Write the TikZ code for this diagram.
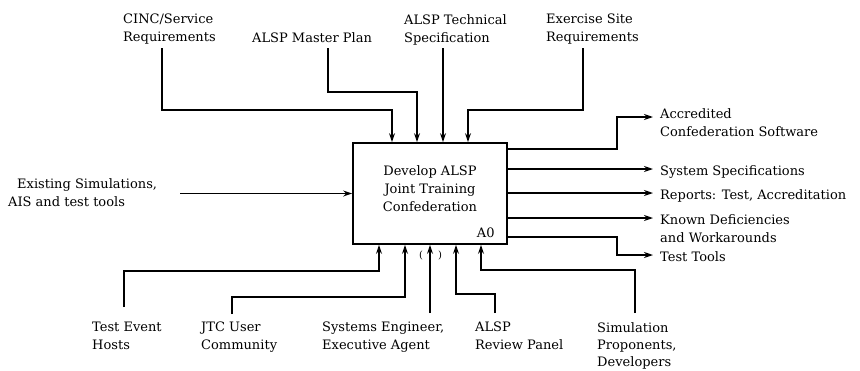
\documentclass[tikz,border=0pt]{standalone}
\usepackage{fontspec}
\setmainfont{DejaVu Serif}
\usetikzlibrary{arrows.meta, positioning, calc}

\begin{document}
\begin{tikzpicture}[
    x=1pt, y=-1pt,
    func/.style={rectangle, draw, line width=1.7pt, minimum width=154pt, minimum height=101pt},
    lbl/.style={align=left, inner sep=0pt, font=\fontsize{13}{18}\selectfont},
    arrow/.style={-{Stealth[length=9pt, width=6pt]}, line width=1.4pt},
]
\useasboundingbox (0,0) rectangle (860,370);

% Activity box
\node[func] (box) at (430,193.5) {};
\node[lbl, align=center] (title) at ([shift={(0,-5)}]box.center) {Develop ALSP\\Joint Training\\Confederation};
\node[lbl, anchor=south east] (a0) at ([shift={(-13,-7)}]box.south east) {A0};

% Controls (top)
\node[lbl, anchor=north west] (cinc) at (123,14) {CINC/Service\\Requirements};
\node[lbl, anchor=north west] (master) at (252,32) {ALSP Master Plan};
\node[lbl, anchor=north west] (tech) at (404,14) {ALSP Technical\\Specification};
\node[lbl, anchor=north west] (exer) at (546,14) {Exercise Site\\Requirements};

% Input (left)
\node[lbl, anchor=north west] (exist) at (8,178) {\hspace*{9pt}Existing Simulations,\\AIS and test tools};

% Outputs (right)
\node[lbl, anchor=north west] (acc) at (660,108) {Accredited\\Confederation Software};
\node[lbl, anchor=north west] (spec) at (660,165) {System Specifications};
\node[lbl, anchor=north west] (rep) at (660,189) {Reports: Test, Accreditation};
\node[lbl, anchor=north west] (known) at (660,214) {Known Deficiencies\\and Workarounds};
\node[lbl, anchor=north west] (tools) at (660,251) {Test Tools};

% Mechanisms (bottom)
\node[lbl, anchor=north west] (hosts) at (92,322) {Test Event\\Hosts};
\node[lbl, anchor=north west] (jtc) at (201,322) {JTC User\\Community};
\node[lbl, anchor=north west] (sys) at (322,322) {Systems Engineer,\\Executive Agent};
\node[lbl, anchor=north west] (panel) at (475,322) {ALSP\\Review Panel};
\node[lbl, anchor=north west, font=\fontsize{13}{17}\selectfont] (sim) at (597,322) {Simulation\\Proponents,\\Developers};

% Tunnel marks
\node[lbl, font=\fontsize{10}{10}\selectfont] (tl) at (421,255) {(};
\node[lbl, font=\fontsize{10}{10}\selectfont] (tr) at (440,255) {)};

% Arrows: controls
\draw[arrow] ([shift={(39,34)}]cinc.north west) |- ([shift={(-38,-32)}]box.north) -- ([xshift=-38pt]box.north);
\draw[arrow] ([shift={(76,16)}]master.north west) |- ([shift={(-13,-50)}]box.north) -- ([xshift=-13pt]box.north);
\draw[arrow] ([shift={(39,34)}]tech.north west) -- ([xshift=13pt]box.north);
\draw[arrow] ([shift={(37,34)}]exer.north west) |- ([shift={(38,-32)}]box.north) -- ([xshift=38pt]box.north);

% Arrows: input
\draw[arrow] ([shift={(172,15.5)}]exist.north west) -- (box.west);

% Arrows: outputs
\draw[arrow] ([shift={(0,-44.5)}]box.east) -- ++(109,0) |- ([shift={(-7,9)}]acc.north west);
\draw[arrow] ([shift={(0,-24.5)}]box.east) -- ([shift={(-7,4)}]spec.north west);
\draw[arrow] ([shift={(0,-0.5)}]box.east) -- ([shift={(-7,4)}]rep.north west);
\draw[arrow] ([shift={(0,24.5)}]box.east) -- ([shift={(-7,4)}]known.north west);
\draw[arrow] ([shift={(0,43.5)}]box.east) -- ++(109,0) |- ([shift={(-7,4)}]tools.north west);

% Arrows: mechanisms
\draw[arrow] ([shift={(32,-15)}]hosts.north west) |- ([shift={(-51,26)}]box.south) -- ([xshift=-51pt]box.south);
\draw[arrow] ([shift={(31,-8)}]jtc.north west) |- ([shift={(-25,52)}]box.south) -- ([xshift=-25pt]box.south);
\draw[arrow] ([shift={(108,-9)}]sys.north west) -- (box.south);
\draw[arrow] ([shift={(20,-9)}]panel.north west) |- ([shift={(26,49)}]box.south) -- ([xshift=26pt]box.south);
\draw[arrow] ([shift={(38,-9)}]sim.north west) |- ([shift={(51,25)}]box.south) -- ([xshift=51pt]box.south);

\end{tikzpicture}
\end{document}
